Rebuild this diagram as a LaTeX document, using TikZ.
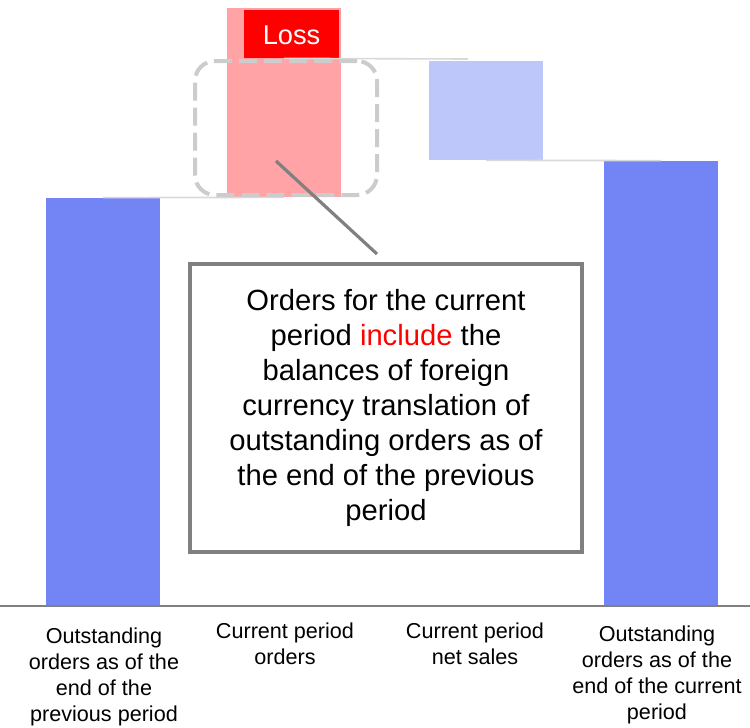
\documentclass[tikz,border=0pt]{standalone}
\usepackage{fontspec}
\setmainfont{Liberation Sans}
\usepackage{tikz}
\usetikzlibrary{positioning}
\definecolor{barblue}{RGB}{115,133,245}
\definecolor{paleblue}{RGB}{189,199,250}
\definecolor{pink}{RGB}{255,163,166}
\definecolor{lossred}{RGB}{255,0,0}
\definecolor{frame}{RGB}{128,128,128}
\definecolor{dashgray}{RGB}{204,204,204}
\definecolor{levelgray}{RGB}{217,217,217}

\begin{document}
\begin{tikzpicture}[x=0.5pt,y=-0.5pt,
		bar/.style={inner sep=0pt, minimum width=57pt},
		level/.style={levelgray, line width=0.8pt},
		label/.style={anchor=north, inner sep=0pt, align=center, font=\fontsize{10.8}{13}\selectfont}]
				\useasboundingbox (0,0) rectangle (750,728);
				\node[bar, fill=barblue, minimum height=204pt] (prev) at (103,402) {};
				\node[bar, fill=pink, minimum height=94.5pt] (ord) at (284,102.5) {};
				\node[bar, fill=paleblue, minimum height=49.5pt] (sales) at (486,110.5) {};
				\node[bar, fill=barblue, minimum height=222.5pt] (curr) at (661,383.5) {};
				\node[fill=lossred, text=white, inner sep=0pt, minimum width=47.5pt, minimum height=24pt, text height=10.5pt, text depth=0pt, font=\fontsize{13.6}{16}\selectfont] (loss) at (291.5,34) {Loss};
				
				\draw[level]  (prev.north) -- (ord.south);
				\draw[level]  (ord.center |- loss.south) -- (468,59);
				\draw[level]  (sales.south) -- (curr.north);
				\draw[frame, line width=0.8pt]  (0,606) -- (750,606);
				
				\node[draw=dashgray, line width=2pt, dash pattern=on 9pt off 3.5pt, rounded corners=10pt, minimum width=91pt, minimum height=67pt] (focus) at (286,128) {};
				\node[draw=frame, line width=2pt, minimum width=196pt, minimum height=144pt, align=center, font=\fontsize{14.6}{17.5}\selectfont] (note) at (386,408) {Orders for the current\\period \textcolor{lossred}{include} the\\balances of foreign\\currency translation of\\outstanding orders as of\\the end of the previous\\period};
				\coordinate (tip) at (276,161);
				\coordinate (tail) at (377,254);
				\draw[frame, line width=1.6pt]  (tip) -- (tail);
				
				\node[label] (l1) at (104,627) {Outstanding\\orders as of the\\end of the\\previous period};
				\node[label] (l2) at (285,622) {Current period\\orders};
				\node[label] (l3) at (475,622) {Current period\\net sales};
				\node[label] (l4) at (657,625) {Outstanding\\orders as of the\\end of the current\\period};
			\end{tikzpicture}
\end{document}
